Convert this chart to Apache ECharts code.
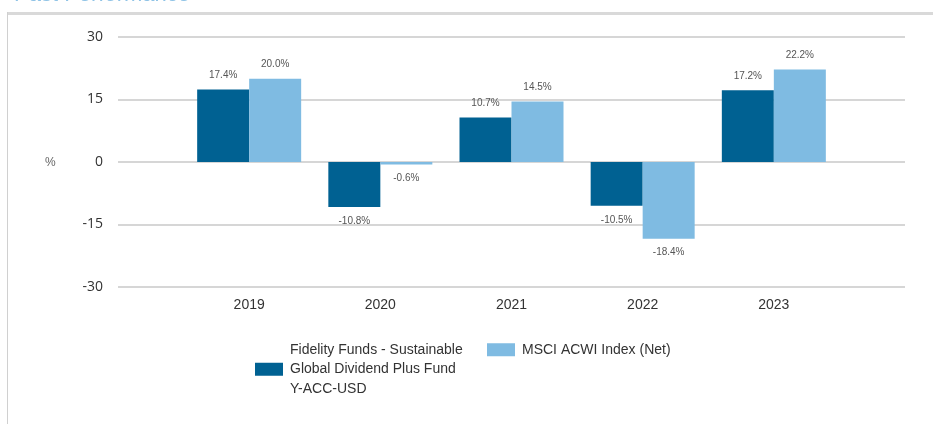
<!DOCTYPE html>
<html>
<head>
<meta charset="utf-8">
<script src="https://cdn.jsdelivr.net/npm/echarts@6/dist/echarts.min.js"></script>
<style>
html,body{margin:0;padding:0;background:#fff;}
#c{width:933px;height:424px;}
</style>
</head>
<body>
<div id="c"></div>
<script>
var categories = ['2019', '2020', '2021', '2022', '2023'];
var fundValues = [17.4, -10.8, 10.7, -10.5, 17.2];
var indexValues = [20.0, -0.6, 14.5, -18.4, 22.2];
var fundName = 'Fidelity Funds - Sustainable\nGlobal Dividend Plus Fund\nY-ACC-USD';
var indexName = 'MSCI ACWI Index (Net)';
var yTicks = [-30, -15, 0, 15, 30];

// pad with empty slots at both ends so the year points sit inside the gridline span
var axisData = [''].concat(categories, ['']);
function toData(vals) {
  var out = [null];
  vals.forEach(function (v) {
    out.push({
      value: v,
      label: { position: v < 0 ? 'bottom' : 'top' }
    });
  });
  out.push(null);
  return out;
}

var sans = '"Liberation Sans", Arial, sans-serif';
var chart = echarts.init(document.getElementById('c'), null, { renderer: 'canvas' });
var labelCfg = {
  show: true,
  distance: 9,
  fontSize: 10,
  color: '#555',
  fontFamily: sans,
  formatter: function (p) { return p.value.toFixed(1) + '%'; }
};
chart.setOption({
  animation: false,
  backgroundColor: '#fff',
  graphic: [
    { type: 'text', x: 14, y: -16, style: { text: 'Past Performance', fill: '#8fc3e6', font: '22px ' + sans }, silent: true },
    { type: 'rect', shape: { x: 7, y: 12, width: 926, height: 3 }, style: { fill: '#d9d9d9' }, silent: true },
    { type: 'rect', shape: { x: 7, y: 12, width: 1, height: 412 }, style: { fill: '#d0d0d0' }, silent: true },
    { type: 'text', left: 45, top: 157, style: { text: '%', fill: '#666', font: '12px ' + sans }, silent: true }
  ],
  grid: { left: 118, right: 28, top: 37, bottom: 137, containLabel: false },
  xAxis: {
    type: 'category',
    data: axisData,
    boundaryGap: false,
    axisLine: { show: false },
    axisTick: { show: false },
    axisLabel: { color: '#333', fontSize: 14, fontFamily: sans, margin: 11, interval: 0 },
    splitLine: { show: false }
  },
  yAxis: {
    type: 'value',
    min: yTicks[0],
    max: yTicks[yTicks.length - 1],
    interval: 15,
    axisLine: { show: false },
    axisTick: { show: false },
    axisLabel: { color: '#333', fontSize: 14, margin: 15, fontFamily: '"Open Sans", "Liberation Sans", sans-serif' },
    splitLine: { lineStyle: { color: '#d6d6d6', width: 2 } }
  },
  legend: [
    {
      data: [fundName],
      left: 255, top: 340, padding: 0,
      itemWidth: 28, itemHeight: 13, itemGap: 8,
      icon: 'rect',
      textStyle: { color: '#333', fontSize: 14, lineHeight: 19.5, fontFamily: sans, padding: [0, 0, 0, 2] },
      selectedMode: false
    },
    {
      data: [indexName],
      left: 487, top: 340, padding: 0,
      itemWidth: 28, itemHeight: 13,
      icon: 'rect',
      textStyle: { color: '#333', fontSize: 14, lineHeight: 19.5, fontFamily: sans, padding: [0, 0, 0, 2] },
      selectedMode: false
    }
  ],
  series: [
    {
      name: fundName,
      type: 'bar',
      data: toData(fundValues),
      barWidth: 52,
      barGap: '0%',
      itemStyle: { color: '#006192' },
      label: labelCfg
    },
    {
      name: indexName,
      type: 'bar',
      data: toData(indexValues),
      barWidth: 52,
      barGap: '0%',
      itemStyle: { color: '#7fbbe2' },
      label: labelCfg
    }
  ]
});
</script>
</body>
</html>
